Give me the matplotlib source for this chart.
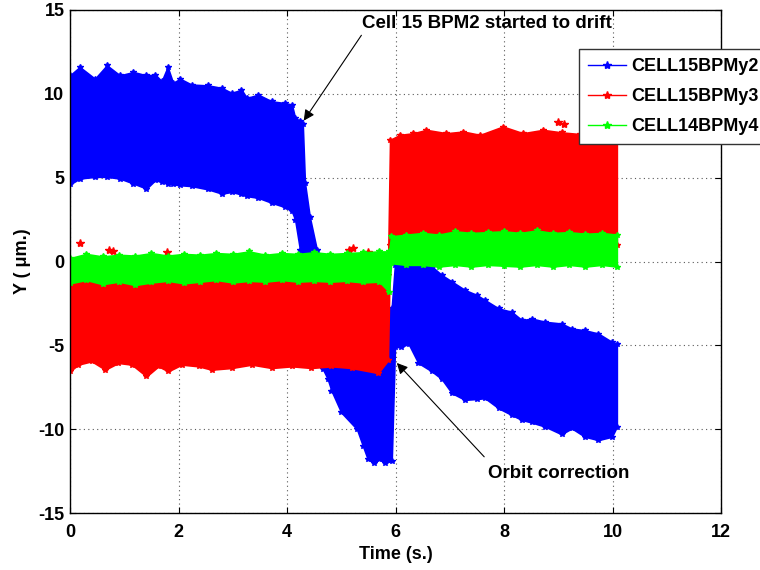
import matplotlib.pyplot as plt
from matplotlib.lines import Line2D

# envelope of each noisy BPM trace (time in s, y in um)
t_y2 = [0.00, 0.18, 0.46, 0.68, 0.92, 1.17, 1.41, 1.57, 1.69, 1.80, 1.90, 2.03,
        2.24, 2.55, 2.80, 2.98, 3.16, 3.26, 3.47, 3.72, 3.96, 4.09, 4.15, 4.24,
        4.29, 4.33, 4.42, 4.55, 4.66, 4.75, 4.82, 5.00, 5.29, 5.40, 5.49, 5.60,
        5.70, 5.80, 5.93, 5.99, 6.11, 6.24, 6.42, 6.67, 6.85, 7.04, 7.28, 7.50,
        7.65, 7.90, 8.14, 8.33, 8.51, 8.76, 9.06, 9.25, 9.49, 9.74, 9.99, 10.08]
y2_hi = [11.1, 11.6, 10.9, 11.7, 11.1, 11.3, 11.1, 11.15, 10.75, 11.6, 10.65, 10.9,
         10.55, 10.5, 10.35, 10.05, 10.25, 9.75, 9.95, 9.55, 9.45, 9.35, 8.55, 8.4,
         8.2, 4.7, 2.65, 0.7, -0.5, -0.8, -1.0, -1.5, -2.0, -2.2, -2.4, -2.5,
         -2.6, -2.7, -2.8, -0.2, -0.2, -0.2, -0.25, -0.3, -0.8, -1.2, -1.7, -2.0,
         -2.3, -2.8, -3.0, -3.5, -3.4, -3.6, -3.7, -4.0, -4.1, -4.3, -4.8, -4.9]
y2_lo = [4.6, 4.95, 5.05, 5.05, 4.95, 4.65, 4.35, 4.85, 4.75, 4.65, 4.6, 4.55,
         4.5, 4.3, 4.05, 4.15, 4.0, 3.9, 3.8, 3.5, 3.25, 3.0, 2.5, 0.7,
         -0.3, -0.8, -1.2, -2.0, -6.4, -7.0, -7.7, -9.0, -10.0, -11.0, -11.8, -12.0,
         -11.8, -12.0, -11.9, -5.1, -5.1, -4.9, -6.05, -6.55, -7.0, -7.85, -8.25, -8.2,
         -8.15, -8.75, -9.15, -9.45, -9.6, -9.85, -10.3, -9.95, -10.45, -10.65, -10.45, -9.85]

t_y3 = [0.00, 0.15, 0.40, 0.65, 0.89, 1.14, 1.41, 1.63, 1.81, 2.06, 2.37, 2.61,
        2.98, 3.35, 3.72, 4.09, 4.45, 4.82, 5.19, 5.68, 5.86, 5.90, 6.08, 6.33,
        6.57, 6.94, 7.25, 7.56, 7.98, 8.35, 8.72, 9.06, 9.40, 9.80, 10.08]
y3_hi = [-0.8, -0.8, -0.8, -0.8, -0.8, -0.8, -0.8, -0.8, -0.8, -0.8, -0.8, -0.8,
         -0.8, -0.8, -0.8, -0.8, -0.8, -0.8, -0.8, -0.8, -0.8, 7.25, 7.55, 7.65,
         7.85, 7.65, 7.75, 7.55, 8.05, 7.65, 7.85, 7.7, 7.6, 7.6, 7.4]
y3_lo = [-6.55, -6.15, -5.95, -6.45, -6.05, -6.15, -6.85, -6.25, -6.55, -6.15, -6.25, -6.45,
         -6.35, -6.15, -6.35, -6.25, -6.35, -6.25, -6.35, -6.65, -5.9, 1.0, 1.0, 1.0,
         1.0, 1.0, 1.0, 1.0, 1.0, 1.0, 1.0, 1.0, 1.0, 1.0, 1.0]
# isolated red samples sticking out of the bands
t_y3_out = [0.18, 0.72, 0.80, 1.79, 5.15, 5.22, 5.50, 9.00, 9.10]
y3_out = [1.1, 0.7, 0.6, 0.55, 0.7, 0.8, 0.55, 8.3, 8.2]

t_y4 = [0.00, 0.30, 0.60, 0.90, 1.20, 1.50, 1.80, 2.10, 2.40, 2.70, 3.00, 3.30,
        3.60, 3.90, 4.20, 4.50, 4.80, 5.10, 5.40, 5.70, 5.88, 5.92, 6.20, 6.50,
        6.80, 7.10, 7.40, 7.70, 8.00, 8.30, 8.60, 8.90, 9.20, 9.50, 9.80, 10.08]
y4_hi = [0.2, 0.45, 0.3, 0.4, 0.35, 0.5, 0.35, 0.45, 0.4, 0.5, 0.45, 0.6,
         0.4, 0.5, 0.45, 0.55, 0.45, 0.5, 0.55, 0.6, 0.6, 1.5, 1.6, 1.7,
         1.6, 1.8, 1.7, 1.75, 1.8, 1.7, 1.85, 1.7, 1.75, 1.65, 1.7, 1.6]
y4_lo = [-1.3, -1.1, -1.35, -1.2, -1.4, -1.25, -1.15, -1.3, -1.2, -1.1, -1.25, -1.15,
         -1.2, -1.1, -1.2, -1.15, -1.2, -1.15, -1.25, -1.2, -1.8, -0.1, -0.2, -0.2,
         -0.3, -0.2, -0.3, -0.2, -0.25, -0.3, -0.2, -0.3, -0.2, -0.3, -0.2, -0.3]

names = ['CELL15BPMy2', 'CELL15BPMy3', 'CELL14BPMy4']
colors = ['#0000ff', '#ff0000', '#00ff00']

plt.rcParams['font.family'] = ['Liberation Sans', 'DejaVu Sans']
plt.rcParams['font.weight'] = 'bold'
plt.rcParams['axes.unicode_minus'] = False

fig = plt.figure(figsize=(7.6, 5.7), dpi=100)
ax = fig.add_axes([70 / 760, 57 / 570, 651 / 760, 503 / 570])

# draw in plot order so each trace covers the previous one
bands = [(t_y2, y2_hi, y2_lo), (t_y3, y3_hi, y3_lo), (t_y4, y4_hi, y4_lo)]
for i, ((t, hi, lo), c) in enumerate(zip(bands, colors)):
    z = 2 + i
    ax.fill_between(t, lo, hi, color=c, lw=1.2, edgecolor=c, zorder=z)
    ax.plot(t, hi, ls='none', marker='*', ms=4, color=c, zorder=z)
    ax.plot(t, lo, ls='none', marker='*', ms=4, color=c, zorder=z)
    if i == 1:
        ax.plot(t_y3_out, y3_out, ls='none', marker='*', ms=6, color=c, zorder=z)

ax.set_xlim(0, 12)
ax.set_ylim(-15, 15)
ax.set_xticks(range(0, 13, 2))
ax.set_yticks(range(-15, 16, 5))
ax.set_axisbelow(True)
ax.grid(True, color='0.35', ls=(0, (1, 3)), lw=0.8)
ax.tick_params(direction='in', top=True, right=True, length=4, labelsize=13)
ax.tick_params(axis='x', pad=8)
ax.tick_params(axis='y', pad=4)
for s in ax.spines.values():
    s.set_linewidth(1.0)
    s.set_zorder(10)

ax.set_xlabel('Time (s.)', fontsize=13, fontweight='bold')
ax.set_ylabel('Y ( μm.)', fontsize=13, fontweight='bold')
ax.xaxis.set_label_coords(0.5, -0.066)
ax.yaxis.set_label_coords(-0.06, 0.5)

arrow = dict(arrowstyle='-|>', color='k', lw=0.8, mutation_scale=16)
ax.annotate('', xy=(4.28, 8.26), xytext=(5.4, 13.63), arrowprops=arrow, zorder=8)
ax.text(7.69, 14.22, 'Cell 15 BPM2 started to drift', ha='center', va='center',
        fontsize=13.5, fontweight='bold', zorder=8)
ax.annotate('', xy=(5.99, -5.93), xytext=(7.67, -11.77), arrowprops=arrow, zorder=8)
ax.text(9.0, -12.67, 'Orbit correction', ha='center', va='center',
        fontsize=13.5, fontweight='bold', zorder=8)

handles = [Line2D([], [], color=c, lw=1, marker='*', ms=6) for c in colors]
leg = fig.legend(handles, names, loc='upper left', bbox_to_anchor=(579 / 760, 1 - 49 / 570),
                 bbox_transform=fig.transFigure, borderaxespad=0, fancybox=False,
                 framealpha=1, edgecolor='0.2', prop={'size': 13, 'weight': 'bold'},
                 handlelength=2.1, handletextpad=0.3, labelspacing=0.73, borderpad=0.5)
leg.get_frame().set_linewidth(1.0)

fig.savefig('out.png', dpi=100)
